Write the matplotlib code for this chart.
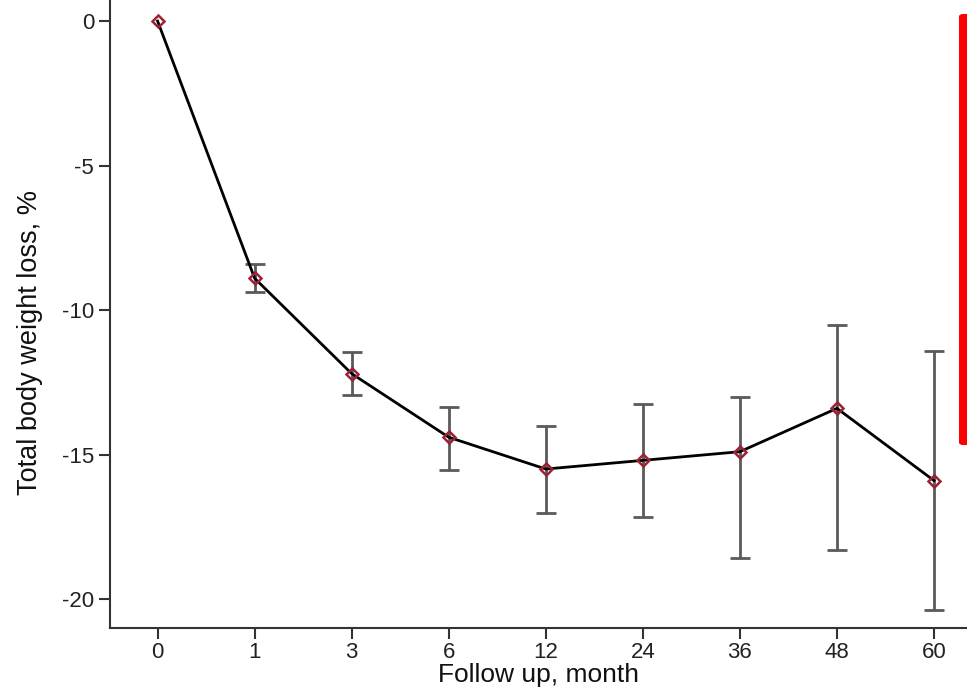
import matplotlib
matplotlib.use("Agg")
import matplotlib.pyplot as plt
from matplotlib.patches import FancyBboxPatch

# 資料 (讀圖估計)
months = ["0", "1", "3", "6", "12", "24", "36", "48", "60"]
twl_mean = [0.0, -8.9, -12.2, -14.4, -15.5, -15.2, -14.9, -13.4, -15.9]
ci_upper = [0.0, -8.4, -11.45, -13.36, -14.01, -13.25, -13.01, -10.52, -11.42]
ci_lower = [0.0, -9.38, -12.94, -15.54, -17.02, -17.16, -18.58, -18.3, -20.38]

plt.rcParams["font.family"] = ["Liberation Sans", "DejaVu Sans"]

fig = plt.figure(figsize=(9.67, 6.91), dpi=100)
ax = fig.add_axes([0.1138, 0.0912, 0.8862, 0.9088])

x = list(range(len(months)))
err_low = [m - lo for m, lo in zip(twl_mean, ci_lower)]
err_high = [hi - m for m, hi in zip(twl_mean, ci_upper)]

# 基線 (0 月) 沒有誤差線
ax.errorbar(x[1:], twl_mean[1:], yerr=[err_low[1:], err_high[1:]], fmt="none",
            ecolor="#5a5a5a", elinewidth=2, capsize=7, capthick=2, zorder=2)
ax.plot(x, twl_mean, color="black", linewidth=2, zorder=3)
ax.plot(x, twl_mean, linestyle="none", marker="D", markersize=6.5,
        markerfacecolor="none", markeredgecolor="#9b2335",
        markeredgewidth=1.8, zorder=4)

ax.set_xticks(x)
ax.set_xticklabels(months)
ax.set_yticks([0, -5, -10, -15, -20])
ax.set_yticklabels(["0", "-5", "-10", "-15", "-20"])
ax.set_xlim(-0.49, 8.34)
ax.set_ylim(-21.0, 0.73)

ax.spines["top"].set_visible(False)
ax.spines["right"].set_visible(False)
for s in ["left", "bottom"]:
    ax.spines[s].set_linewidth(1.5)
    ax.spines[s].set_color("#333333")
ax.tick_params(axis="both", labelsize=16, width=1.5, length=8,
               color="#333333", labelcolor="#222222")
ax.tick_params(axis="x", pad=2)

ax.set_xlabel("Follow up, month", fontsize=19, labelpad=0, color="#111111")
ax.set_ylabel("Total body weight loss, %", fontsize=19.5, color="#111111")
ax.yaxis.set_label_coords(-0.078, 0.455)

# 右側紅色條
bar = FancyBboxPatch((959 / 967, 1 - 445 / 691), 0.02, (445 - 14) / 691,
                     boxstyle="round,pad=0,rounding_size=0.004",
                     transform=fig.transFigure, facecolor="#ff0000",
                     edgecolor="none")
fig.patches.append(bar)

fig.savefig("out.png", dpi=100)
